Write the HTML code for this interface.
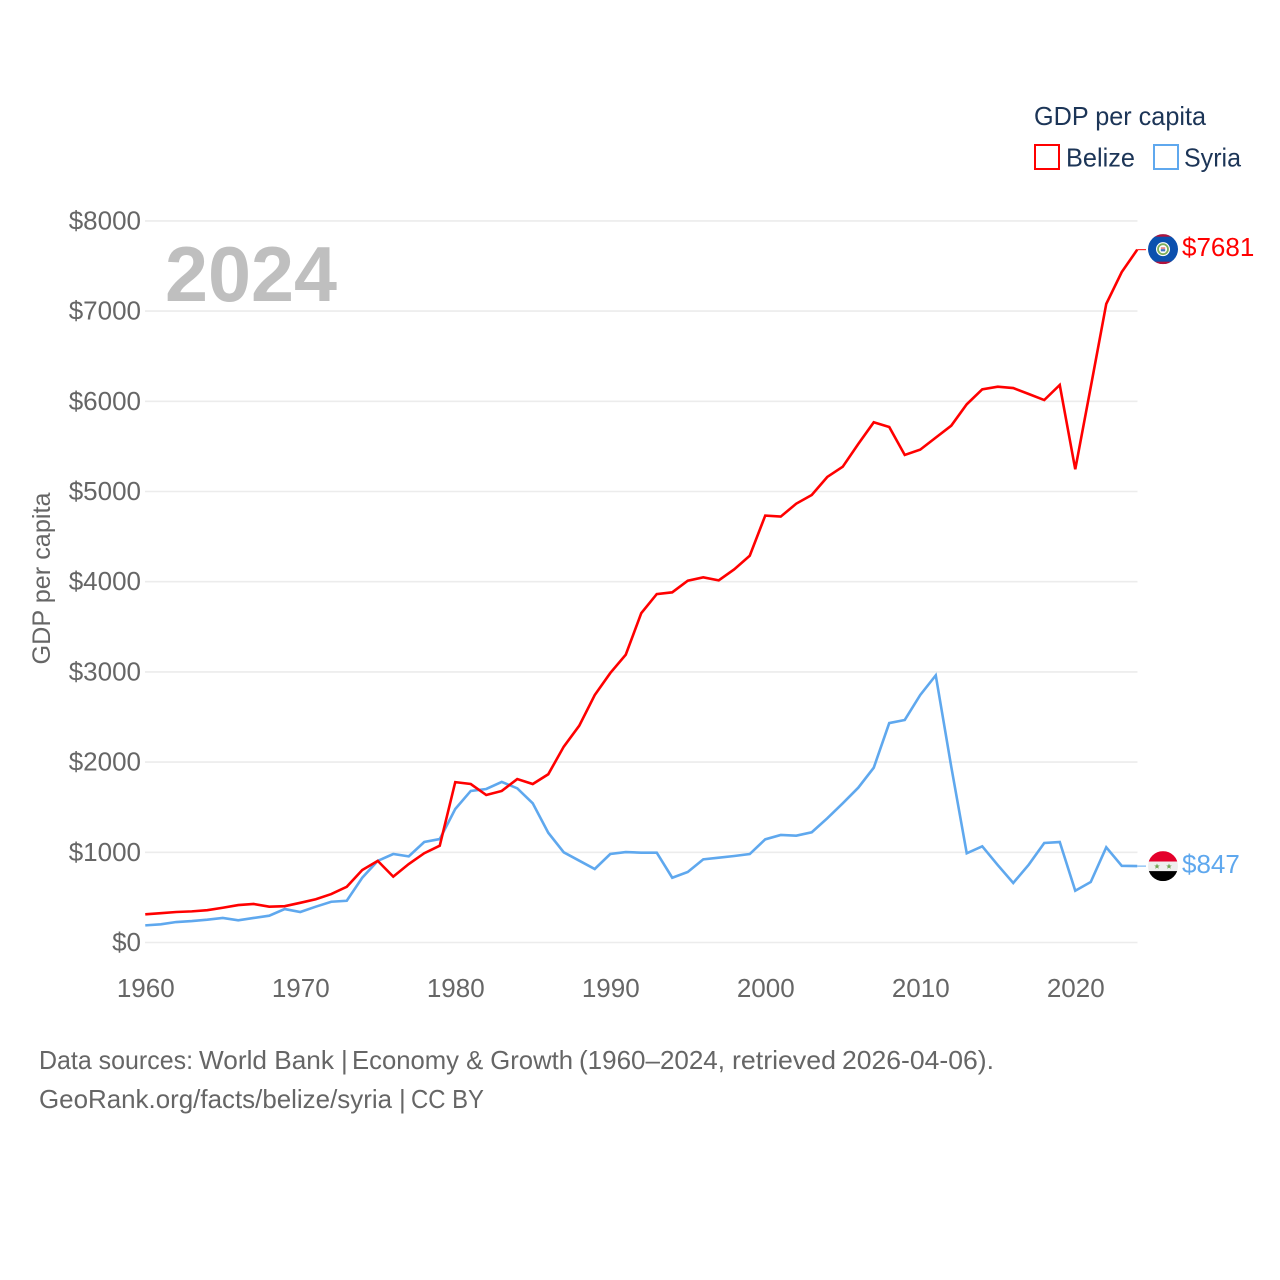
<!DOCTYPE html>
<html lang="en">
<head>
<meta charset="utf-8">
<title>GDP per capita: Belize and Syria</title>
<style>
html,body{margin:0;padding:0;background:#fff;}
svg{display:block;}
text{font-family:"Liberation Sans",sans-serif;}
</style>
</head>
<body>
<svg id="chart" xmlns="http://www.w3.org/2000/svg" width="1280" height="1280" viewBox="0 0 1280 1280">
  <defs>
    <clipPath id="flag-clip"><circle cx="0" cy="0" r="15"></circle></clipPath>
  </defs>
  <rect x="0" y="0" width="1280" height="1280" fill="#ffffff"></rect>
  <g id="grid"></g>
  <g id="y-ticks"></g>
  <g id="x-ticks"></g>
  <text x="165" y="301" font-size="78" font-weight="700" fill="#bfbfbf" textLength="172" lengthAdjust="spacingAndGlyphs">2024</text>
  <text transform="translate(50,578.5) rotate(-90)" text-anchor="middle" font-size="25" fill="#666666" textLength="172" lengthAdjust="spacingAndGlyphs">GDP per capita</text>
  <g id="series"></g>
  <g id="flags"></g>

  <g>
    <text x="1034" y="125" font-size="26" fill="#1c3557" textLength="172" lengthAdjust="spacingAndGlyphs">GDP per capita</text>
    <g>
      <rect x="1035" y="145" width="24" height="24" fill="#ffffff" stroke="#ff0000" stroke-width="2"></rect>
      <text x="1066" y="166.5" font-size="26" fill="#1c3557" textLength="69" lengthAdjust="spacingAndGlyphs">Belize</text>
    </g>
    <g>
      <rect x="1154" y="145" width="24" height="24" fill="#ffffff" stroke="#5fa8ee" stroke-width="2"></rect>
      <text x="1184" y="166.5" font-size="26" fill="#1c3557" textLength="57" lengthAdjust="spacingAndGlyphs">Syria</text>
    </g>
  </g>

  <g>
    <text y="1069" font-size="26" fill="#666666"><tspan x="39" textLength="154" lengthAdjust="spacingAndGlyphs">Data sources:</tspan> <tspan x="199" textLength="135" lengthAdjust="spacingAndGlyphs">World Bank</tspan> <tspan x="341">|</tspan> <tspan x="352" textLength="221" lengthAdjust="spacingAndGlyphs">Economy &amp; Growth</tspan> <tspan x="579" textLength="146" lengthAdjust="spacingAndGlyphs">(1960–2024,</tspan> <tspan x="732" textLength="104" lengthAdjust="spacingAndGlyphs">retrieved</tspan> <tspan x="842" textLength="152" lengthAdjust="spacingAndGlyphs">2026-04-06).</tspan></text>
    <text y="1108" font-size="26" fill="#666666"><tspan x="39" textLength="353" lengthAdjust="spacingAndGlyphs">GeoRank.org/facts/belize/syria</tspan> <tspan x="399">|</tspan> <tspan x="411" textLength="73" lengthAdjust="spacingAndGlyphs">CC BY</tspan></text>
  </g>
</svg>

<script>
const startYear = 1960;
const yearCount = 65;
const yTickValues = [0, 1000, 2000, 3000, 4000, 5000, 6000, 7000, 8000];
const xTickYears = [1960, 1970, 1980, 1990, 2000, 2010, 2020];
const belizeValues = [312, 325, 338, 345, 358, 385, 415, 427, 397, 403, 440, 480, 537, 618, 804, 905, 730, 870, 990, 1073, 1778, 1757, 1635, 1680, 1812, 1757, 1865, 2171, 2404, 2744, 2987, 3190, 3651, 3863, 3882, 4011, 4048, 4015, 4137, 4288, 4733, 4722, 4865, 4961, 5161, 5275, 5527, 5767, 5715, 5405, 5464, 5597, 5730, 5967, 6133, 6162, 6147, 6081, 6014, 6181, 5246, 6158, 7080, 7433, 7681];
const syriaValues = [190, 202, 227, 238, 253, 272, 246, 272, 297, 371, 338, 397, 452, 463, 718, 905, 981, 955, 1114, 1147, 1480, 1680, 1702, 1780, 1709, 1543, 1217, 1000, 907, 815, 981, 1003, 996, 996, 718, 782, 922, 940, 959, 981, 1144, 1192, 1184, 1222, 1377, 1543, 1716, 1938, 2433, 2467, 2744, 2962, 1949, 989, 1066, 859, 660, 863, 1103, 1114, 574, 671, 1055, 850, 847];

const NS = 'http://www.w3.org/2000/svg';
const xAxis = function (year) { return 145.25 + (year - startYear) * 15.5; };
const yAxis = function (value) { return 942.5 - value * 0.0902; };
const gridLayer = document.getElementById('grid');
const yTickLayer = document.getElementById('y-ticks');
const xTickLayer = document.getElementById('x-ticks');
const seriesLayer = document.getElementById('series');
const flagLayer = document.getElementById('flags');

function svgEl(tag, attrs) {
  const el = document.createElementNS(NS, tag);
  Object.keys(attrs).forEach(function (k) { el.setAttribute(k, attrs[k]); });
  return el;
}

yTickValues.forEach(function (v) {
  const line = svgEl('line', { x1: 145, x2: 1137.5, y1: yAxis(v), y2: yAxis(v), stroke: '#ececec', 'stroke-width': 1.6 });
  
  
  gridLayer.appendChild(line);
  const label = svgEl('text', { x: 141, y: yAxis(v) + 8.5, 'text-anchor': 'end', 'font-size': 26, fill: '#666666' });
  
  
  label.textContent = '$' + v;
  yTickLayer.appendChild(label);
});

xTickYears.forEach(function (yr) {
  const label = svgEl('text', { x: xAxis(yr) + 0.5, y: 997, 'text-anchor': 'middle', 'font-size': 26, fill: '#666666' });
  
  
  label.textContent = String(yr);
  xTickLayer.appendChild(label);
});

function linePoints(values) {
  return values.map(function (v, i) { return xAxis(startYear + i) + ',' + yAxis(v); }).join(' ');
}

const syriaLine = svgEl('polyline', { points: linePoints(syriaValues), fill: 'none', stroke: '#5fa8ee', 'stroke-width': 2.6, 'stroke-linejoin': 'miter' });


seriesLayer.appendChild(syriaLine);

const belizeLine = svgEl('polyline', { points: linePoints(belizeValues), fill: 'none', stroke: '#ff0000', 'stroke-width': 2.6, 'stroke-linejoin': 'miter' });


seriesLayer.appendChild(belizeLine);

const lastX = xAxis(startYear + yearCount - 1);
const belizeLast = belizeValues[belizeValues.length - 1];
const syriaLast = syriaValues[syriaValues.length - 1];

const belizeConnector = svgEl('line', { x1: lastX, x2: 1146, y1: yAxis(belizeLast), y2: yAxis(belizeLast), stroke: '#ff0000', 'stroke-width': 1 });


flagLayer.appendChild(belizeConnector);

const syriaConnector = svgEl('line', { x1: lastX, x2: 1146, y1: yAxis(syriaLast), y2: yAxis(syriaLast), stroke: '#5fa8ee', 'stroke-width': 1 });


flagLayer.appendChild(syriaConnector);

const belizeFlag = svgEl('g', { transform: 'translate(1163,' + (yAxis(belizeLast) - 0.5) + ')', 'clip-path': 'url(#flag-clip)' });


belizeFlag.appendChild(svgEl('rect', { x: -15, y: -15, width: 30, height: 30, fill: '#0b50ae' }));
belizeFlag.appendChild(svgEl('rect', { x: -15, y: -15, width: 30, height: 2.5, fill: '#b5123a' }));
belizeFlag.appendChild(svgEl('rect', { x: -15, y: 12.5, width: 30, height: 2.5, fill: '#b5123a' }));
belizeFlag.appendChild(svgEl('circle', { cx: 0, cy: 0, r: 7, fill: '#ffffff' }));
belizeFlag.appendChild(svgEl('circle', { cx: 0, cy: 0, r: 5, fill: '#ffffff', stroke: '#7fae5a', 'stroke-width': 1.8 }));
belizeFlag.appendChild(svgEl('rect', { x: -2.2, y: -2, width: 4.4, height: 2, fill: '#e98a8a' }));
belizeFlag.appendChild(svgEl('rect', { x: -2.2, y: 0, width: 4.4, height: 2.2, fill: '#3d74c0' }));
flagLayer.appendChild(belizeFlag);

const syriaFlag = svgEl('g', { transform: 'translate(1163,' + yAxis(syriaLast) + ')', 'clip-path': 'url(#flag-clip)' });


syriaFlag.appendChild(svgEl('rect', { x: -15, y: -15, width: 30, height: 10.5, fill: '#e4002b' }));
syriaFlag.appendChild(svgEl('rect', { x: -15, y: -4.5, width: 30, height: 9.5, fill: '#eeeeee' }));
syriaFlag.appendChild(svgEl('rect', { x: -15, y: 5, width: 30, height: 10, fill: '#000000' }));
syriaFlag.appendChild(svgEl('polygon', { points: '-6,-2.6 -5.2,-0.6 -3.2,-0.6 -4.8,0.7 -4.2,2.7 -6,1.5 -7.8,2.7 -7.2,0.7 -8.8,-0.6 -6.8,-0.6', fill: '#6fa352' }));
syriaFlag.appendChild(svgEl('polygon', { points: '6,-2.6 6.8,-0.6 8.8,-0.6 7.2,0.7 7.8,2.7 6,1.5 4.2,2.7 4.8,0.7 3.2,-0.6 5.2,-0.6', fill: '#6fa352' }));
flagLayer.appendChild(syriaFlag);

const belizeValueLabel = svgEl('text', { x: 1182, y: yAxis(belizeLast) + 6.5, 'font-size': 26, fill: '#ff0000' });


belizeValueLabel.textContent = '$' + belizeLast;
flagLayer.appendChild(belizeValueLabel);

const syriaValueLabel = svgEl('text', { x: 1182, y: yAxis(syriaLast) + 7, 'font-size': 26, fill: '#5fa8ee' });


syriaValueLabel.textContent = '$' + syriaLast;
flagLayer.appendChild(syriaValueLabel);
</script>
</body>
</html>
